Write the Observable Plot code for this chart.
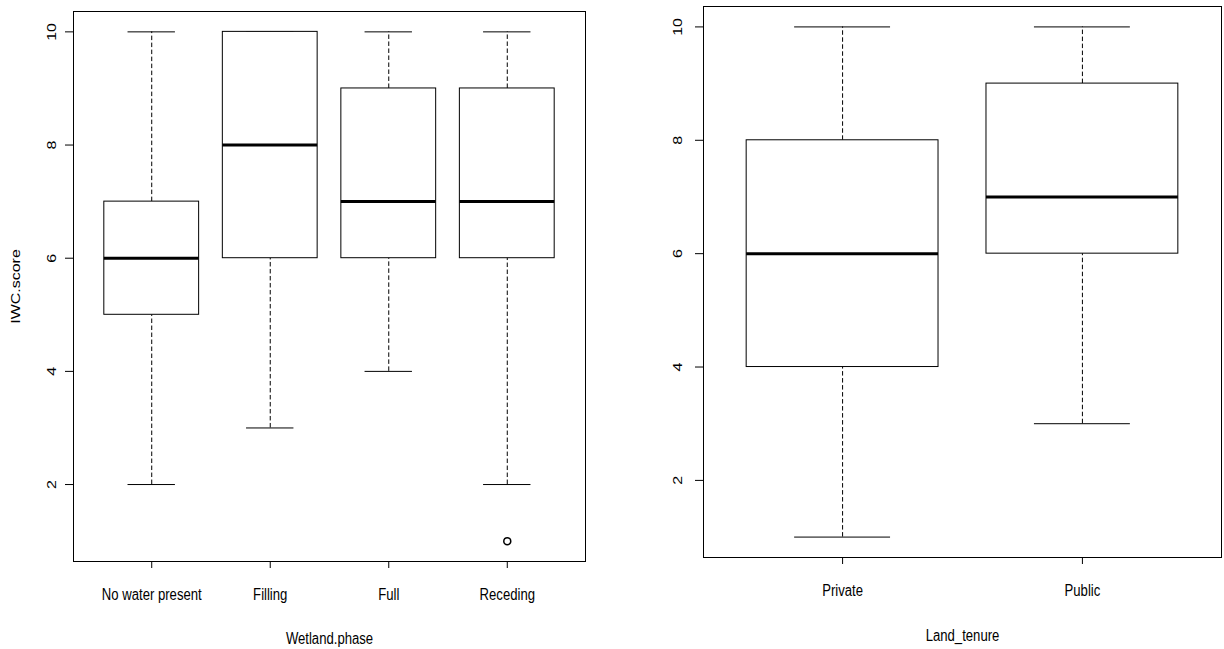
<!DOCTYPE html>
<html><head><meta charset="utf-8">
<script src="https://cdn.jsdelivr.net/npm/d3@7"></script>
<script src="https://cdn.jsdelivr.net/npm/@observablehq/plot@0.6"></script>
<style>
html,body{margin:0;padding:0;background:#fff;}
#wrap{position:relative;width:1224px;height:649px;overflow:hidden;}
#left{position:absolute;left:0;top:0;}
#right{position:absolute;left:612px;top:0;}
</style></head><body><div id="wrap"><div id="left"></div><div id="right"></div></div>
<script>
// ---- Data: Wetland.phase vs IWC.score ----
const phaseCategories = ["No water present", "Filling", "Full", "Receding"];
const phaseMin    = [2, 3, 4, 2];
const phaseQ1     = [5, 6, 6, 6];
const phaseMedian = [6, 8, 7, 7];
const phaseQ3     = [7, 10, 9, 9];
const phaseMax    = [10, 10, 10, 10];
const phaseOutlierCategory = ["Receding"];
const phaseOutlierValue    = [1];

// ---- Data: Land_tenure vs IWC.score ----
const tenureCategories = ["Private", "Public"];
const tenureMin    = [1, 3];
const tenureQ1     = [4, 6];
const tenureMedian = [6, 7];
const tenureQ3     = [8, 9];
const tenureMax    = [10, 10];
const tenureOutlierCategory = [];
const tenureOutlierValue    = [];

const yTicks = [2, 4, 6, 8, 10];
const yTitle = "IWC.score";
const xTitleLeft = "Wetland.phase";
const xTitleRight = "Land_tenure";

const FONT = '"Liberation Sans", Arial, sans-serif';
const DASH = "4.5,2.5";
const SQUEEZE = 0.82; // horizontal glyph squeeze seen in the reference

function boxplot(cfg) {
  const {categories, mins, q1s, medians, q3s, maxs, outCats, outVals,
         xLabel, yLabel, width, height, margins, tickLabelOffset, xTitleOffset} = cfg;
  const n = categories.length;
  const rows = categories.map((c, i) => ({
    c, pos: i + 1, min: mins[i], q1: q1s[i], med: medians[i], q3: q3s[i], max: maxs[i]
  }));
  const outliers = outCats.map((c, i) => ({pos: categories.indexOf(c) + 1, value: outVals[i]}));
  const xDomain = [0.5 - 0.04 * n, n + 0.5 + 0.04 * n];
  const all = [...mins, ...maxs, ...outVals];
  const lo = Math.min(...all), hi = Math.max(...all);
  const ext = (hi - lo) * 0.04;
  const marks = [
    Plot.ruleX(rows, {x: "pos", y1: "q3", y2: "max", stroke: "black", strokeDasharray: DASH}),
    Plot.ruleX(rows, {x: "pos", y1: "min", y2: "q1", stroke: "black", strokeDasharray: DASH}),
    Plot.ruleY(rows, {y: "max", x1: d => d.pos - 0.2, x2: d => d.pos + 0.2, stroke: "black"}),
    Plot.ruleY(rows, {y: "min", x1: d => d.pos - 0.2, x2: d => d.pos + 0.2, stroke: "black"}),
    Plot.rect(rows, {x1: d => d.pos - 0.4, x2: d => d.pos + 0.4, y1: "q1", y2: "q3", fill: "white", stroke: "black"}),
    Plot.ruleY(rows, {y: "med", x1: d => d.pos - 0.4, x2: d => d.pos + 0.4, stroke: "black", strokeWidth: 3}),
    Plot.dot(outliers, {x: "pos", y: "value", r: 3.5, stroke: "black", fill: "none"}),
    Plot.frame({stroke: "black"}),
    Plot.axisX({ticks: d3.range(1, n + 1), tickFormat: i => categories[i - 1], tickSize: 7, tickPadding: 20, label: null}),
    Plot.axisY({ticks: yTicks, tickSize: 8, tickFormat: () => "", label: null}),
    Plot.text(yTicks, {x: xDomain[0], y: d => d, text: d => String(d), rotate: -90, dx: -tickLabelOffset,
                       textAnchor: "middle", lineAnchor: "middle", fill: "black"}),
    Plot.text([xLabel], {frameAnchor: "bottom", dy: xTitleOffset, lineAnchor: "bottom", fill: "black"})
  ];
  if (yLabel) {
    marks.push(Plot.text([yLabel], {frameAnchor: "left", dx: -57.5, rotate: -90, lineAnchor: "middle",
                                    textAnchor: "middle", fill: "black"}));
  }
  return Plot.plot({
    width, height,
    marginLeft: margins[0], marginRight: margins[1], marginTop: margins[2], marginBottom: margins[3],
    x: {type: "linear", domain: xDomain},
    y: {type: "linear", domain: [lo - ext, hi + ext]},
    style: {fontFamily: FONT, fontSize: "16px", color: "black", background: "white", overflow: "visible"},
    marks
  });
}

// squeeze glyphs horizontally (on screen) around each text's own centre
function squeeze(svg) {
  svg.querySelectorAll("text").forEach(t => {
    if (!t.textContent) return;
    const tr = t.getAttribute("transform") || "";
    const b = t.getBBox();
    if (tr.includes("rotate")) {
      const cy = b.y + b.height / 2;
      t.setAttribute("transform", `${tr} translate(0,${cy}) scale(1,${SQUEEZE}) translate(0,${-cy})`);
    } else {
      const cx = b.x + b.width / 2;
      t.setAttribute("transform", `${tr} translate(${cx},0) scale(${SQUEEZE},1) translate(${-cx},0)`);
    }
  });
}

const leftSvg = boxplot({
  categories: phaseCategories, mins: phaseMin, q1s: phaseQ1, medians: phaseMedian, q3s: phaseQ3, maxs: phaseMax,
  outCats: phaseOutlierCategory, outVals: phaseOutlierValue,
  xLabel: xTitleLeft, yLabel: yTitle, width: 612, height: 649,
  margins: [73, 27, 11, 88], tickLabelOffset: 22, xTitleOffset: 82
});
document.getElementById("left").appendChild(leftSvg);
squeeze(leftSvg);

const rightSvg = boxplot({
  categories: tenureCategories, mins: tenureMin, q1s: tenureQ1, medians: tenureMedian, q3s: tenureQ3, maxs: tenureMax,
  outCats: tenureOutlierCategory, outVals: tenureOutlierValue,
  xLabel: xTitleRight, yLabel: null, width: 612, height: 649,
  margins: [91, 3, 6, 92], tickLabelOffset: 26, xTitleOffset: 83.7
});
document.getElementById("right").appendChild(rightSvg);
squeeze(rightSvg);
</script>
</body></html>
